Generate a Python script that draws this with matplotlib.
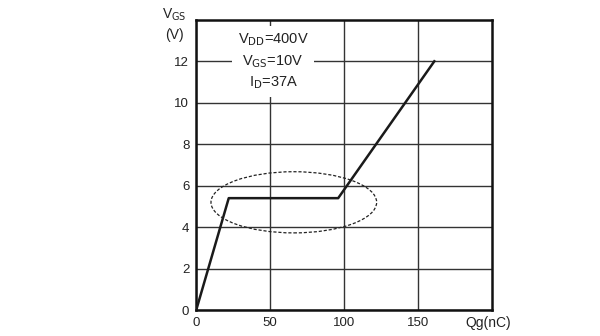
import matplotlib.pyplot as plt
from matplotlib.patches import Ellipse

plt.rcParams['font.family'] = ['Liberation Sans', 'DejaVu Sans']

# gate charge curve (Qg in nC, Vgs in V)
qg = [0, 22, 96, 161]
vgs = [0, 5.4, 5.4, 12]

x_ticks = [0, 50, 100, 150]
y_ticks = [0, 2, 4, 6, 8, 10, 12]

fig = plt.figure(figsize=(6, 3.36), dpi=100)
ax = fig.add_axes([0.327, 0.077, 0.493, 0.864])

ax.plot(qg, vgs, color='#1a1a1a', lw=1.8, zorder=3)

ax.set_xlim(0, 200)
ax.set_ylim(0, 14)
ax.set_xticks(x_ticks)
ax.set_yticks(y_ticks)
ax.tick_params(length=0, labelsize=9.5, colors='#222222', pad=5)
ax.grid(True, color='#333333', lw=1.0)
for s in ax.spines.values():
    s.set_linewidth(1.8)
    s.set_color('#111111')

# highlight the Miller plateau
ax.add_patch(Ellipse((66, 5.2), 112, 2.95, fill=False, ls=(0, (2.5, 1.5)),
                     lw=0.9, color='#222222', zorder=4))

ax.text(52, 12, 'V$_{\\rm DD}$=400V\nV$_{\\rm GS}$=10V\nI$_{\\rm D}$=37A',
        fontsize=10.5, ha='center', va='center', linespacing=1.4,
        color='#222222', zorder=5,
        bbox=dict(facecolor='white', edgecolor='none', pad=4))

fig.text(0.29, 0.955, 'V$_{\\rm GS}$', fontsize=10, ha='center', va='center', color='#222222')
fig.text(0.29, 0.895, '(V)', fontsize=10, ha='center', va='center', color='#222222')
fig.text(0.813, 0.04, 'Qg(nC)', fontsize=10, ha='center', va='center', color='#222222')

fig.savefig('out.png', dpi=100)
